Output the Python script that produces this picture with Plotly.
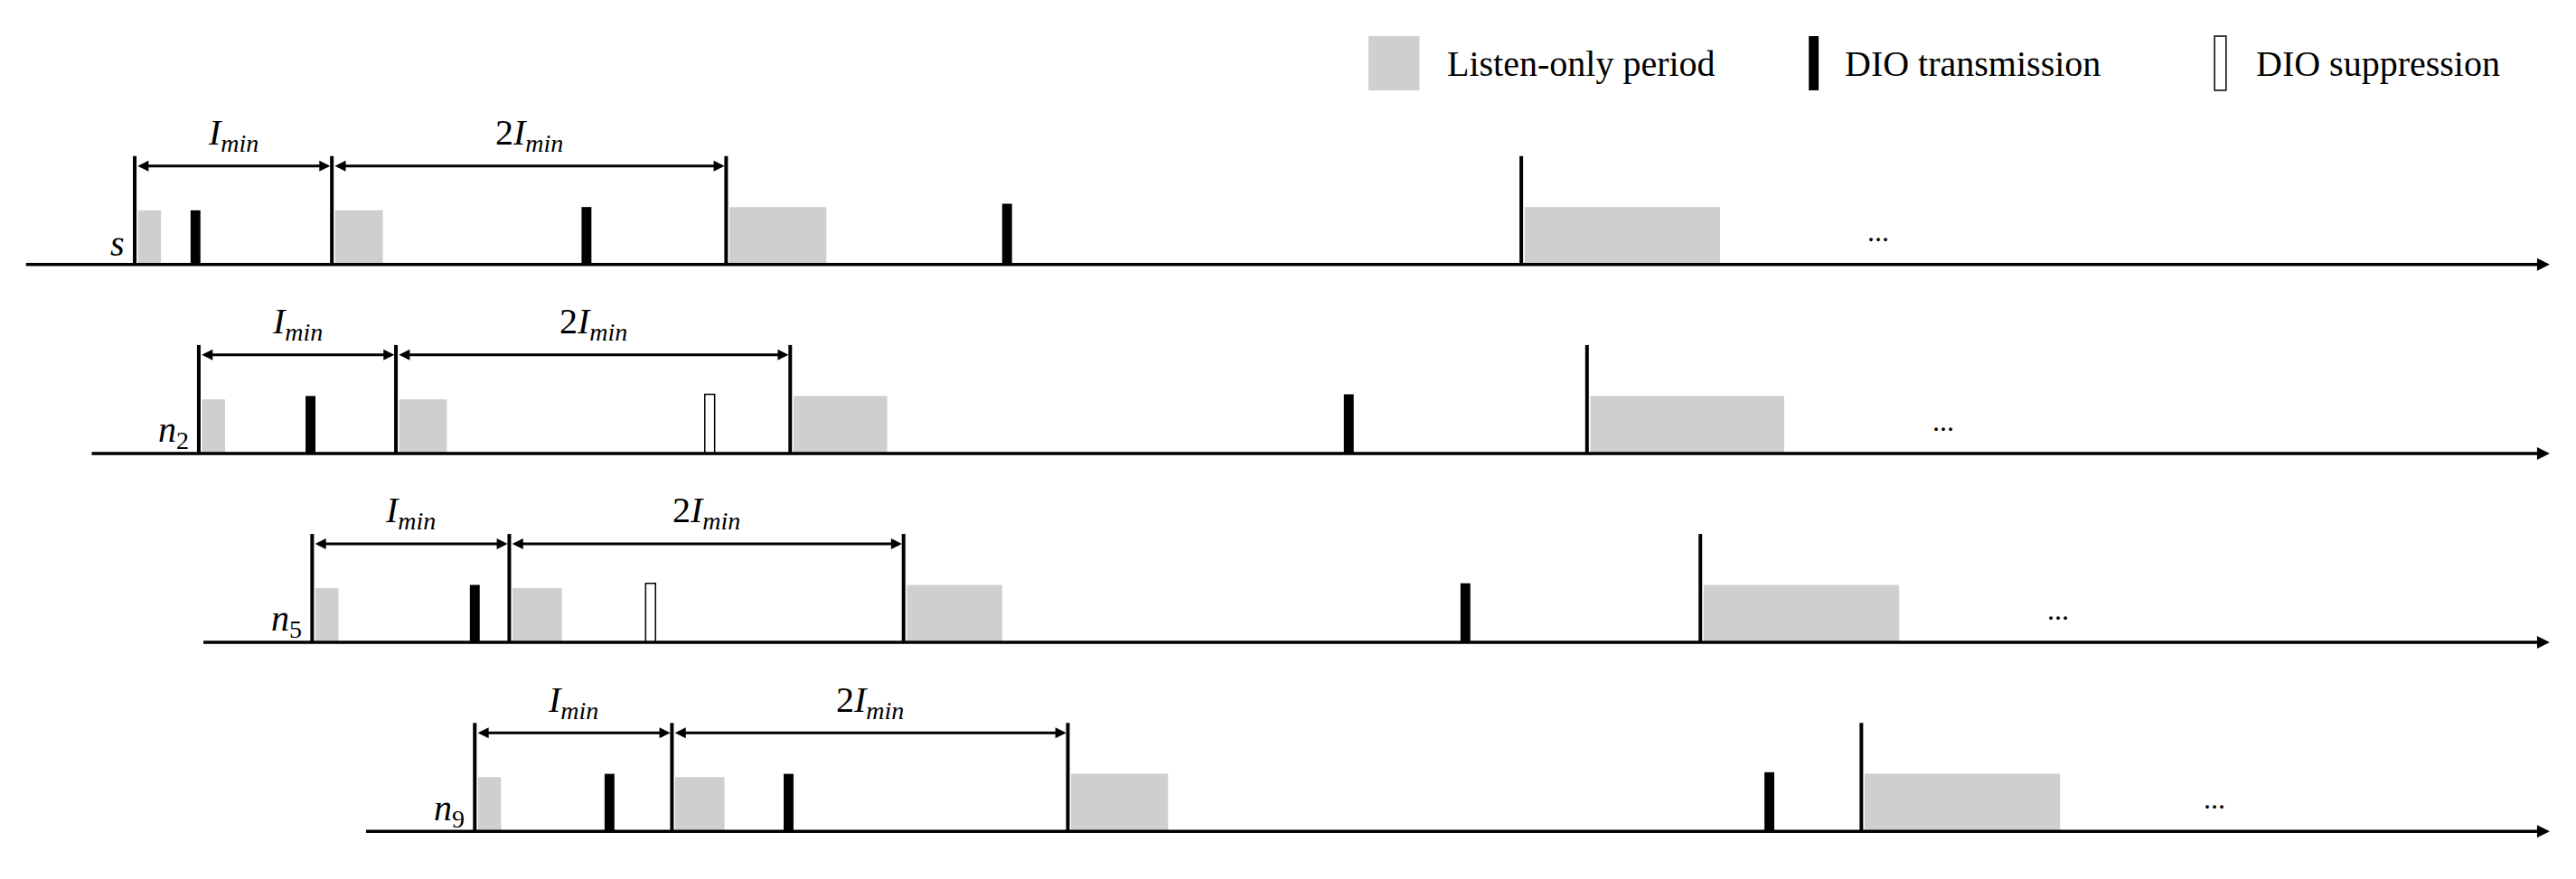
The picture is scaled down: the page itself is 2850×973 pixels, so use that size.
import plotly.graph_objects as go

# timeline coordinates (in reference pixel units of a 1568 x 535 canvas)
row_labels = ["<i>s</i>", "<i>n</i><sub>2</sub>", "<i>n</i><sub>5</sub>", "<i>n</i><sub>9</sub>"]
baselines = [161, 276, 391, 506]
axis_starts = [15, 55, 123, 222]
interval_starts = [[82, 202, 442, 926], [121, 241, 481, 966], [190, 310, 550, 1035], [289, 409, 650, 1133]]
listen_ends = [[98, 233, 503, 1047], [137, 272, 540, 1086], [206, 342, 610, 1156], [305, 441, 711, 1254]]
listen_heights = [[33, 33, 35, 35], [33, 33, 35, 35], [33, 33, 35, 35], [33, 33, 35, 35]]
dio_tx = [[119, 357, 613], [189, 821], [289, 892], [371, 480, 1077]]
dio_tx_heights = [[33, 35, 37], [35, 36], [35, 36], [35, 35, 36]]
dio_sup = [[], [432], [396], []]
dots_x = [1143, 1183, 1253, 1348]
axis_end = 1552
tick_height = 66
arrow_offset = 60

SERIF = "Liberation Serif"
FS = 40
BLACK = "black"
fig = go.Figure()
shapes, ann = [], []

for r in range(4):
    b = baselines[r]
    ann.append(dict(x=axis_end, y=b, ax=axis_starts[r], ay=b, xref="x", yref="y", axref="x", ayref="y",
                    showarrow=True, arrowhead=2, arrowsize=0.8, arrowwidth=3.5, arrowcolor="black", text=""))
    for i, xs in enumerate(interval_starts[r]):
        shapes.append(dict(type="line", x0=xs, x1=xs, y0=b, y1=b - tick_height, line=dict(color="black", width=4)))
        shapes.append(dict(type="rect", x0=xs + 2, x1=listen_ends[r][i], y0=b, y1=b - listen_heights[r][i],
                           fillcolor="#d0cecf", line=dict(width=0), layer="below"))
    for x, h in zip(dio_tx[r], dio_tx_heights[r]):
        shapes.append(dict(type="rect", x0=x - 3, x1=x + 3, y0=b, y1=b - h, fillcolor="black", line=dict(width=0)))
    for x in dio_sup[r]:
        shapes.append(dict(type="rect", x0=x - 3, x1=x + 3, y0=b, y1=b - 36, fillcolor="white",
                           line=dict(color="black", width=1.5)))
    ya = b - arrow_offset
    s0, s1, s2 = interval_starts[r][:3]
    for a, c in [(s0, s1), (s1, s2)]:
        ann.append(dict(x=c - 1, y=ya, ax=a + 1, ay=ya, xref="x", yref="y", axref="x", ayref="y", showarrow=True,
                        arrowhead=2, startarrowhead=2, arrowside="end+start", arrowsize=0.8, arrowwidth=3,
                        arrowcolor="black", text=""))
    ann.append(dict(x=(s0 + s1) / 2, y=ya - 19, text="<i>I</i><sub><i>min</i></sub>", showarrow=False,
                    font=dict(family=SERIF, size=FS, color=BLACK)))
    ann.append(dict(x=(s1 + s2) / 2, y=ya - 19, text="2<i>I</i><sub><i>min</i></sub>", showarrow=False,
                    font=dict(family=SERIF, size=FS, color=BLACK)))
    ann.append(dict(x=interval_starts[r][0] - 5, y=b - 13, text=row_labels[r], showarrow=False, xanchor="right",
                    font=dict(family=SERIF, size=FS, color=BLACK)))
    ann.append(dict(x=dots_x[r], y=b - 20, text="...", showarrow=False, font=dict(family=SERIF, size=32, color=BLACK)))

# legend
shapes.append(dict(type="rect", x0=833, x1=864, y0=22, y1=55, fillcolor="#d0cecf", line=dict(width=0)))
shapes.append(dict(type="rect", x0=1101, x1=1107, y0=22, y1=55, fillcolor="black", line=dict(width=0)))
shapes.append(dict(type="rect", x0=1348, x1=1355, y0=22, y1=55, fillcolor="white", line=dict(color="black", width=1.5)))
for x, t in [(880, "Listen-only period"), (1122, "DIO transmission"), (1372, "DIO suppression")]:
    ann.append(dict(x=x, y=39, text=t, showarrow=False, xanchor="left", font=dict(family=SERIF, size=FS, color=BLACK)))

off = 4.4  # compensate page body margin
fig.update_layout(width=2850, height=973, margin=dict(l=0, r=0, t=0, b=0),
                  plot_bgcolor="white", paper_bgcolor="white", shapes=shapes, annotations=ann, showlegend=False,
                  xaxis=dict(range=[off, 1568 + off], visible=False), yaxis=dict(range=[535 + off, off], visible=False))
fig.write_html("out.html")
